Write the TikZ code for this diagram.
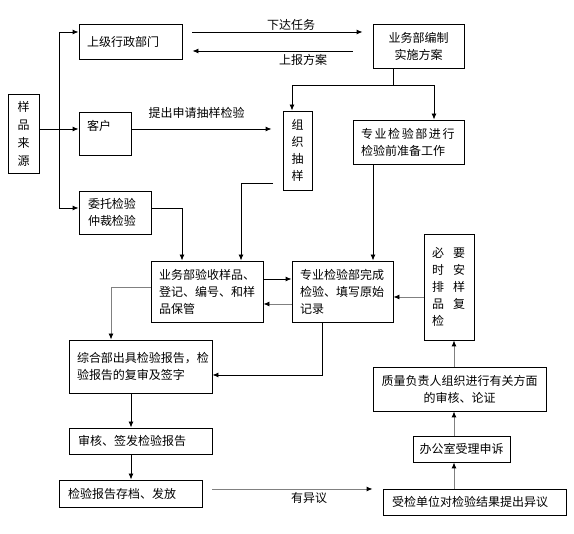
\documentclass[tikz,border=0pt]{standalone}
\usepackage{fontspec}
\setmainfont{Noto Sans CJK SC}
\usetikzlibrary{arrows.meta}
\begin{document}
\begin{tikzpicture}[x=1pt,y=-1pt,
  box/.style={draw, line width=0.9pt, inner ysep=0pt, font=\fontsize{12}{17}\selectfont},
  lab/.style={inner sep=0pt, font=\fontsize{12}{17}\selectfont},
  ln/.style={line width=0.9pt},
  arr/.style={line width=0.9pt, -{Latex[length=6pt,width=5pt]}},
  garr/.style={line width=0.9pt, draw=gray, -{Latex[length=6pt,width=5pt,color=black]}},
  gln/.style={line width=0.9pt, draw=gray}]
\fill[white] (0,0) rectangle (574,534);
\useasboundingbox (0,0) rectangle (574,534);

% boxes
\node[box, minimum width=31pt, minimum height=79pt, text width=21pt, inner xsep=5pt, align=center, font=\fontsize{12}{18}\selectfont] (src) at (23.5,133.5) {样\\品\\来\\源};
\node[box, minimum width=103pt, minimum height=35pt, text width=87pt, inner xsep=8pt, align=left] (sup) at (130.5,41.5) {上级行政部门};
\node[box, minimum width=52pt, minimum height=43pt, text width=36pt, inner xsep=8pt, align=left] (cli) at (105,133.5) {客户\\\mbox{}};
\node[box, minimum width=72pt, minimum height=43pt, text width=54pt, inner xsep=9pt, align=left] (ent) at (115,212.5) {委托检验\\仲裁检验};
\node[box, minimum width=91pt, minimum height=44pt, text width=81pt, inner xsep=5pt, align=center] (plan) at (418.5,46) {业务部编制\\实施方案};
\node[box, minimum width=29pt, minimum height=79pt, text width=19pt, inner xsep=5pt, align=center] (org) at (297.5,150.5) {组\\织\\抽\\样};
\node[box, minimum width=111pt, minimum height=44pt, text width=95pt, inner xsep=8pt, align=left] (prep) at (408.5,142) {\mbox{专\hspace{1.6pt}业\hspace{1.6pt}检\hspace{1.6pt}验\hspace{1.6pt}部\hspace{1.6pt}进\hspace{1.6pt}行}\\检验前准备工作};
\node[box, minimum width=112pt, minimum height=61pt, text width=96pt, inner xsep=8pt, align=left] (recv) at (207,291.5) {业务部验收样品、\\登记、编号、和样\\品保管};
\node[box, minimum width=101pt, minimum height=61pt, text width=85pt, inner xsep=8pt, align=left] (done) at (342.5,291.5) {专业检验部完成\\检验、填写原始\\记录};
\node[box, minimum width=143pt, minimum height=53pt, text width=127pt, inner xsep=8pt, align=left] (comp) at (140.5,366.5) {综合部出具检验报告，检\\验报告的复审及签字};
\node[box, minimum width=143pt, minimum height=26pt, text width=125pt, inner xsep=9pt, align=left] (rev) at (140.5,441) {审核、签发检验报告};
\node[box, minimum width=143pt, minimum height=27pt, text width=125pt, inner xsep=9pt, align=left] (arch) at (130.5,493.5) {检验报告存档、发放};
\node[box, minimum width=50pt, minimum height=106pt, text width=34pt, inner xsep=8pt, align=left] (reck) at (449,287) {必\hspace{9pt}要\\时\hspace{9pt}安\\排\hspace{9pt}样\\品\hspace{9pt}复\\检};
\node[box, minimum width=173pt, minimum height=44pt, text width=163pt, inner xsep=5pt, align=center] (qual) at (459.5,389) {质量负责人组织进行有关方面\\的审核、论证};
\node[box, minimum width=97pt, minimum height=26pt, text width=87pt, inner xsep=5pt, align=center] (off) at (461.5,449) {办公室受理申诉};
\node[box, minimum width=183pt, minimum height=26pt, text width=165pt, inner xsep=9pt, align=left] (obj) at (474.5,502) {受检单位对检验结果提出异议};

% labels
\node[lab] (l1) at (291,25) {下达任务};
\node[lab] (l2) at (303,60) {上报方案};
\node[lab] (l3) at (196.5,113) {提出申请抽样检验};
\node[lab] (l4) at (309,498) {有异议};

% sources bus
\coordinate (bt) at (59,32);
\coordinate (bb) at (59,208);
\draw[ln] (bt) -- (bb);
\draw[arr] (bt) -- (sup.west |- bt);
\draw[arr] (bb) -- (ent.west |- bb);
\draw[arr] ([yshift=4.5pt]src.east) -- ([yshift=4.5pt]cli.west);

% sup <-> plan
\draw[arr] ([shift={(10pt,9.5pt)}]sup.east) coordinate (f1) -- ([xshift=-10pt]plan.west |- f1);
\coordinate (b1) at ([shift={(10pt,-9.5pt)}]sup.east);
\draw[arr] ([xshift=-20pt]plan.west |- b1) -- (b1);

% cli -> org
\draw[arr] ([yshift=4.5pt]cli.east) coordinate (c1) -- ([xshift=-11pt]org.west |- c1);

% plan -> org, prep
\coordinate (pj) at (393,85);
\draw[ln] ([xshift=-25.5pt]plan.south) -- (pj);
\draw[arr] (pj) -| ([xshift=-5.5pt]org.north);
\draw[arr] (pj) -| ([xshift=25.5pt]prep.north);

% prep -> done
\draw[arr] ([xshift=-35.5pt]prep.south) -- ([xshift=-35.5pt]prep.south |- done.north);

% org -> recv
\coordinate (o1) at (273,183);
\draw[arr] (o1) -| ([xshift=34pt]recv.north);

% ent -> recv
\draw[arr] ([yshift=4.5pt]ent.east) -| ([xshift=-25pt]recv.north);

% recv <-> done
\draw[arr] ([yshift=12.5pt]recv.east) -- ([yshift=12.5pt]done.west);
\draw[garr] ([yshift=-12.5pt]done.west) -- ([yshift=-12.5pt]recv.east);

% recv -> comp
\draw[garr] ([yshift=4.5pt]recv.west) -| ([xshift=-29.5pt]comp.north);

% done -> comp
\draw[arr] ([xshift=-20.5pt]done.south) |- ([yshift=-8.5pt]comp.east);

% reck -> done
\draw[garr] ([yshift=-10pt]reck.west) coordinate (r1) -- (done.east |- r1);

% appeal chain
\draw[garr] ([xshift=-5.5pt]qual.north) -- ([xshift=-5.5pt]qual.north |- reck.south);
\draw[garr] ([xshift=-7.5pt]off.north) -- ([xshift=-7.5pt]off.north |- qual.south);
\draw[garr] ([xshift=-20.5pt]obj.north) -- ([xshift=-20.5pt]obj.north |- off.south);

% report chain
\draw[arr] ([xshift=-9.5pt]comp.south) -- ([xshift=-9.5pt]comp.south |- rev.north);
\draw[arr] ([xshift=-9.5pt]rev.south) -- ([xshift=-9.5pt]rev.south |- arch.north);

% arch -> obj
\draw[garr] ([shift={(10pt,4.5pt)}]arch.east) coordinate (h1) -- ([xshift=-10pt]obj.west |- h1);
\end{tikzpicture}
\end{document}
